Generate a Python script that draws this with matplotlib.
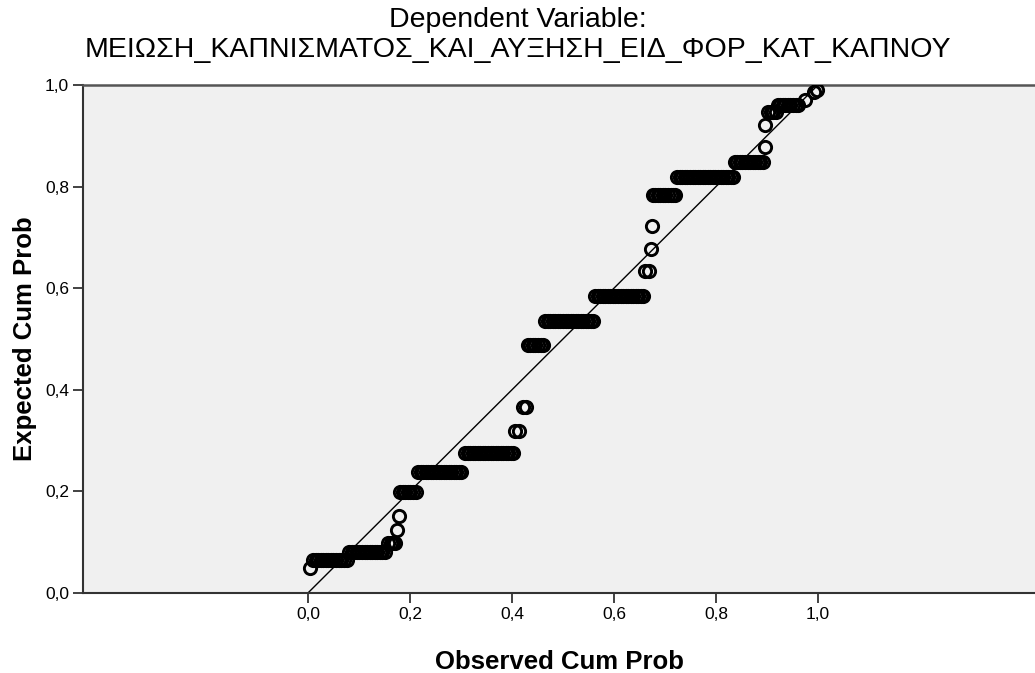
import matplotlib.pyplot as plt

# font similar to Arial used by SPSS
plt.rcParams['font.family'] = ['Liberation Sans', 'DejaVu Sans']

title_text = "Dependent Variable:\nΜΕΙΩΣΗ_ΚΑΠΝΙΣΜΑΤΟΣ_ΚΑΙ_ΑΥΞΗΣΗ_ΕΙΔ_ΦΟΡ_ΚΑΤ_ΚΑΠΝΟΥ"

# expected cum prob for each tied group of residuals
exp_levels = [0.049, 0.065, 0.081, 0.098, 0.124, 0.152, 0.199, 0.238, 0.276,
              0.319, 0.366, 0.488, 0.535, 0.585, 0.634, 0.677, 0.722, 0.783,
              0.819, 0.848, 0.878, 0.921, 0.947, 0.961, 0.970, 0.986, 0.990]

# observed cum prob of the points in each group
obs_groups = [
    [0.004],
    [0.010, 0.015, 0.020, 0.025, 0.030, 0.035, 0.040, 0.045, 0.050, 0.055,
     0.060, 0.065, 0.070, 0.076],
    [0.081, 0.086, 0.091, 0.096, 0.101, 0.106, 0.111, 0.116, 0.121, 0.126,
     0.131, 0.136, 0.141, 0.146, 0.152],
    [0.157, 0.162, 0.167, 0.171],
    [0.175],
    [0.178],
    [0.181, 0.186, 0.191, 0.196, 0.201, 0.206, 0.211],
    [0.216, 0.221, 0.226, 0.231, 0.236, 0.241, 0.246, 0.251, 0.256, 0.261,
     0.266, 0.271, 0.276, 0.281, 0.286, 0.291, 0.296, 0.301],
    [0.308, 0.313, 0.318, 0.323, 0.328, 0.333, 0.338, 0.343, 0.348, 0.353,
     0.358, 0.363, 0.368, 0.373, 0.378, 0.383, 0.388, 0.393, 0.398, 0.402],
    [0.406, 0.414],
    [0.421, 0.427],
    [0.431, 0.436, 0.441, 0.446, 0.451, 0.456, 0.461],
    [0.465, 0.470, 0.475, 0.480, 0.485, 0.490, 0.495, 0.500, 0.505, 0.510,
     0.515, 0.520, 0.525, 0.530, 0.535, 0.540, 0.545, 0.550, 0.555, 0.559],
    [0.563, 0.568, 0.573, 0.578, 0.583, 0.588, 0.593, 0.598, 0.603, 0.608,
     0.613, 0.618, 0.623, 0.628, 0.633, 0.638, 0.643, 0.648, 0.653, 0.657],
    [0.661, 0.668],
    [0.672],
    [0.674],
    [0.676, 0.681, 0.686, 0.691, 0.696, 0.701, 0.706, 0.711, 0.716, 0.720],
    [0.724, 0.729, 0.734, 0.739, 0.744, 0.749, 0.754, 0.759, 0.764, 0.769,
     0.774, 0.779, 0.784, 0.789, 0.794, 0.799, 0.804, 0.809, 0.814, 0.819,
     0.824, 0.829, 0.833],
    [0.837, 0.842, 0.847, 0.852, 0.857, 0.862, 0.867, 0.872, 0.877, 0.882,
     0.887, 0.892],
    [0.896],
    [0.897],
    [0.902, 0.907, 0.912, 0.917],
    [0.921, 0.926, 0.931, 0.936, 0.941, 0.946, 0.951, 0.956, 0.960],
    [0.975],
    [0.992],
    [0.998],
]

tick_vals = [0.0, 0.2, 0.4, 0.6, 0.8, 1.0]
tick_labels = ["0,0", "0,2", "0,4", "0,6", "0,8", "1,0"]

obs_prob = []
exp_prob = []
for level, group in zip(exp_levels, obs_groups):
    for v in group:
        obs_prob.append(v)
        exp_prob.append(level)

fig = plt.figure(figsize=(10.35, 6.73), dpi=100)
ax = fig.add_axes([0.0802, 0.1189, 0.9198, 0.7548])
ax.set_facecolor('#f0f0f0')

# reference line
ax.plot([0, 1], [0, 1], color='black', linewidth=1.0, zorder=2)
# points
ax.plot(obs_prob, exp_prob, linestyle='none', marker='o', markersize=8.8,
        markerfacecolor='none', markeredgecolor='black', markeredgewidth=2.1,
        zorder=3)

ax.set_xlim(-0.441, 1.4255)
ax.set_ylim(0, 1)
ax.set_xticks(tick_vals)
ax.set_xticklabels(tick_labels)
ax.set_yticks(tick_vals)
ax.set_yticklabels(tick_labels)
ax.tick_params(direction='out', length=7, width=1.3, labelsize=12.5,
               color='#333333', pad=3)

ax.spines['right'].set_visible(False)
ax.spines['top'].set_color('#555555')
ax.spines['top'].set_linewidth(1.8)
ax.spines['left'].set_linewidth(1.5)
ax.spines['bottom'].set_linewidth(1.5)
ax.spines['left'].set_color('#333333')
ax.spines['bottom'].set_color('#333333')

ax.set_xlabel("Observed Cum Prob", fontsize=18.5, fontweight='bold', labelpad=20)
ax.set_ylabel("Expected Cum Prob", fontsize=18.5, fontweight='bold', labelpad=6)
fig.text(0.5, 1 - 7 / 673, title_text, ha='center', va='top', fontsize=20.5,
         linespacing=1.18)

fig.savefig("out.png", dpi=100)
